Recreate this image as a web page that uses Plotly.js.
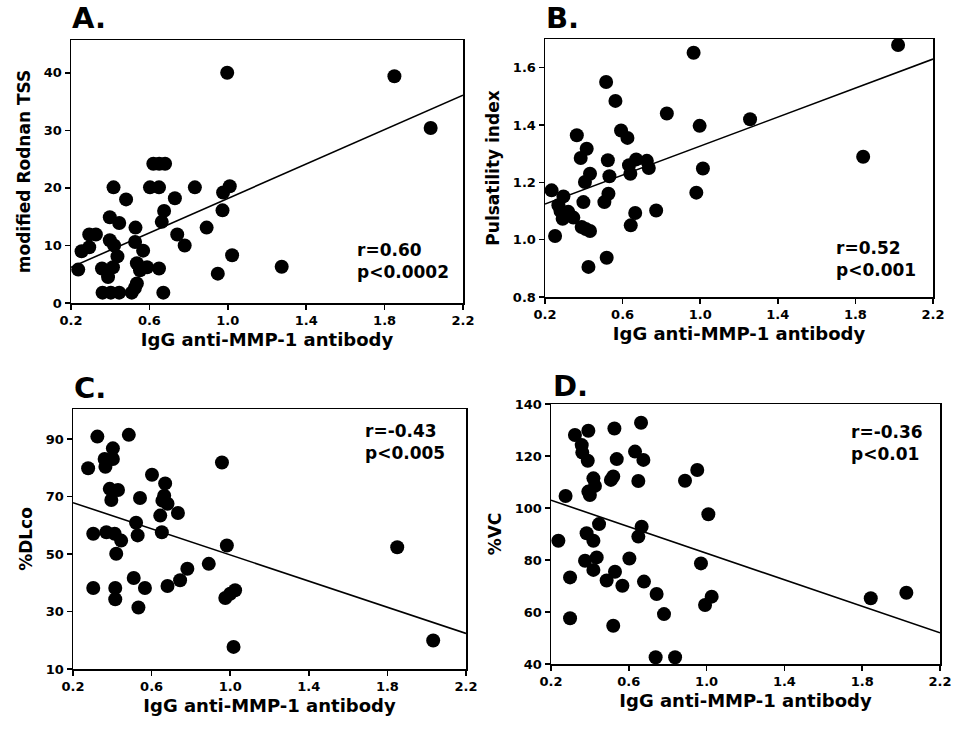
<!DOCTYPE html>
<html>
<head>
<meta charset="utf-8">
<script src="https://cdn.plot.ly/plotly-3.0.1.min.js"></script>
<style>html,body{margin:0;padding:0;background:#fff;}#chart{width:954px;height:729px;}</style>
</head>
<body>
<div id="chart"></div>
<script>
// ---- Data ----
const xA = [0.997,1.85,2.035,1.275,0.62,0.65,0.68,0.417,0.603,0.649,0.832,1.01,0.976,0.481,0.73,0.675,0.663,0.973,0.398,0.446,0.529,0.892,0.293,0.327,0.254,0.293,0.237,0.398,0.42,0.437,0.527,0.568,0.742,0.78,1.022,0.358,0.414,0.389,0.536,0.552,0.588,0.649,0.536,0.526,0.361,0.403,0.446,0.51,0.671,0.949];
const yA = [40.0,39.4,30.4,6.3,24.2,24.2,24.2,20.1,20.1,20.1,20.1,20.3,19.2,18.0,18.2,16.0,14.1,16.1,14.9,13.9,13.1,13.1,11.9,11.9,9.0,9.7,5.8,10.9,10.0,8.1,10.6,9.1,11.9,10.0,8.3,6.0,6.2,4.5,6.9,5.7,6.2,6.0,3.4,2.6,1.8,1.8,1.8,1.8,1.8,5.1];

const xB = [0.966,0.515,0.563,0.828,0.997,0.592,0.625,0.364,0.415,0.384,0.524,0.633,0.67,0.725,0.735,0.64,1.014,0.432,0.406,0.532,0.234,0.295,0.269,0.28,0.398,0.527,0.506,0.98,0.773,0.665,0.642,0.32,0.291,0.346,0.389,0.41,0.432,0.252,0.518,0.424,1.257,1.84,2.02];
const yB = [1.652,1.55,1.484,1.44,1.397,1.381,1.355,1.364,1.317,1.285,1.277,1.26,1.28,1.275,1.25,1.23,1.248,1.23,1.201,1.221,1.172,1.151,1.12,1.10,1.131,1.16,1.131,1.164,1.102,1.093,1.05,1.097,1.073,1.077,1.044,1.037,1.03,1.013,0.937,0.905,1.42,1.289,1.679];

const xC = [0.324,0.484,0.403,0.361,0.403,0.365,0.277,0.958,0.602,0.669,0.387,0.429,0.395,0.541,0.664,0.655,0.681,0.734,0.644,0.521,0.652,0.303,0.37,0.412,0.445,0.42,0.529,0.983,0.891,0.782,0.745,0.303,0.415,0.415,0.509,0.566,0.681,0.533,0.975,1.0,1.025,1.017,1.85,2.033];
const yC = [90.9,91.5,86.8,83.1,83.1,80.4,79.9,81.9,77.6,74.6,72.7,72.3,68.8,69.5,70.3,68.6,67.5,64.3,63.4,60.9,57.6,57.1,57.6,57.1,54.7,50.1,56.5,53.0,46.6,44.9,40.9,38.2,38.2,34.3,41.7,38.2,38.9,31.4,34.7,36.2,37.4,17.7,52.4,19.9];

const xD = [0.663,0.392,0.526,0.323,0.358,0.361,0.389,0.632,0.675,0.538,0.952,0.889,0.418,0.426,0.392,0.4,0.52,0.508,0.649,0.275,1.009,0.447,0.666,0.649,0.383,0.418,0.238,0.435,0.375,0.418,0.603,0.971,0.529,0.486,0.567,0.678,0.298,0.743,0.992,1.026,0.781,0.298,0.52,0.738,0.838,1.844,2.027];
const yD = [132.8,129.7,130.6,128.1,124.2,121.3,118.2,121.7,118.5,118.8,114.6,110.5,111.4,108.5,106.3,105.0,112.1,110.8,110.4,104.6,97.6,93.8,92.8,89.0,90.3,87.4,87.4,81.0,79.7,76.2,80.6,78.7,75.5,72.1,70.1,71.7,73.3,66.9,62.7,65.9,59.2,57.6,54.7,42.6,42.6,65.3,67.4];

// regression line end points (x = 0.2 and x = 2.2)
const fitX = [0.2, 2.2];
const fitA = [6.2, 36.1];
const fitB = [1.124, 1.63];
const fitC = [67.9, 22.4];
const fitD = [103, 52];

const panelLabels = ["A.", "B.", "C.", "D."];
const rText = ["r=0.60", "r=0.52", "r=-0.43", "r=-0.36"];
const pText = ["p<0.0002", "p<0.001", "p<0.005", "p<0.01"];
const xTitle = "IgG anti-MMP-1 antibody";
const yTitles = ["modified Rodnan TSS", "Pulsatility index", "%DLco", "%VC"];

// ---- Layout helpers ----
const W = 954, H = 729;
const FONT = "DejaVu Sans, Verdana, sans-serif";
const boxes = [
  {l:71, r:463, t:40, b:303},
  {l:545, r:933, t:39, b:297},
  {l:73, r:466, t:409, b:669},
  {l:551, r:940, t:404, b:664}
];
const yRanges = [[0,45.7],[0.8,1.7],[10,100.5],[40,140]];
const yTick = [{tick0:0,dtick:10,fmt:"d"},{tick0:0.8,dtick:0.2,fmt:".1f"},{tick0:10,dtick:20,fmt:"d"},{tick0:40,dtick:20,fmt:"d"}];

const xs = [xA,xB,xC,xD], ys=[yA,yB,yC,yD], fits=[fitA,fitB,fitC,fitD];
const traces = [];
const layout = {
  width: W, height: H,
  margin: {l:0,r:0,t:0,b:0},
  paper_bgcolor: "#fff", plot_bgcolor: "#fff",
  showlegend: false,
  font: {family: FONT, color: "#000", size: 13, weight: 700},
  annotations: []
};

for (let i=0;i<4;i++){
  const sx = i===0 ? "" : String(i+1);
  traces.push({
    type:"scatter", mode:"markers", x: xs[i], y: ys[i],
    xaxis:"x"+sx, yaxis:"y"+sx,
    marker:{color:"#000", size:14, line:{width:0}},
    hoverinfo:"skip"
  });
  traces.push({
    type:"scatter", mode:"lines", x: fitX, y: fits[i],
    xaxis:"x"+sx, yaxis:"y"+sx,
    line:{color:"#000", width:1.6},
    hoverinfo:"skip"
  });
  const b = boxes[i];
  layout["xaxis"+sx] = {
    domain:[b.l/W, b.r/W], anchor:"y"+sx,
    range:[0.2,2.2], tick0:0.2, dtick:0.4, tickformat:".1f",
    showgrid:false, zeroline:false, showline:true, mirror:true,
    linecolor:"#000", linewidth:1.5,
    ticks:"outside", ticklen:5, tickwidth:1.5, tickcolor:"#000",
    tickfont:{family:FONT, size:13, weight:700, color:"#000"},
    title:{text:xTitle, font:{family:FONT, size:18, weight:700, color:"#000"}, standoff:6},
    automargin:false, fixedrange:true
  };
  const yt = yTick[i];
  layout["yaxis"+sx] = {
    domain:[1-b.b/H, 1-b.t/H], anchor:"x"+sx,
    range:yRanges[i], tick0:yt.tick0, dtick:yt.dtick, tickformat:yt.fmt,
    showgrid:false, zeroline:false, showline:true, mirror:true,
    linecolor:"#000", linewidth:1.5,
    ticks:"outside", ticklen:5, tickwidth:1.5, tickcolor:"#000",
    tickfont:{family:FONT, size:13, weight:700, color:"#000"},
    title:{text:yTitles[i], font:{family:FONT, size:17, weight:700, color:"#000"}, standoff:9},
    automargin:false, fixedrange:true
  };
}

// Panel letters
const letterPos = [[71,0],[545,0],[73,370],[552,368]];
for (let i=0;i<4;i++){
  layout.annotations.push({
    xref:"paper", yref:"paper", x: letterPos[i][0]/W, y: 1-letterPos[i][1]/H,
    xanchor:"left", yanchor:"top", showarrow:false, text: panelLabels[i],
    borderpad:0,
    font:{family:FONT, size:29, weight:700, color:"#000"}
  });
}
// Stats text (two lines in one block)
const statX = [356,835,364,850];
const statY = [261,259,442,443];
for (let i=0;i<4;i++){
  layout.annotations.push({
    xref:"paper", yref:"paper", x: statX[i]/W, y: 1-statY[i]/H,
    xanchor:"left", yanchor:"middle", align:"left", showarrow:false,
    text: rText[i] + "<br>" + pText[i],
    borderpad:0,
    font:{family:FONT, size:17, weight:700, color:"#000"}
  });
}

Plotly.newPlot("chart", traces, layout, {displayModeBar:false, staticPlot:true});
</script>
</body>
</html>
